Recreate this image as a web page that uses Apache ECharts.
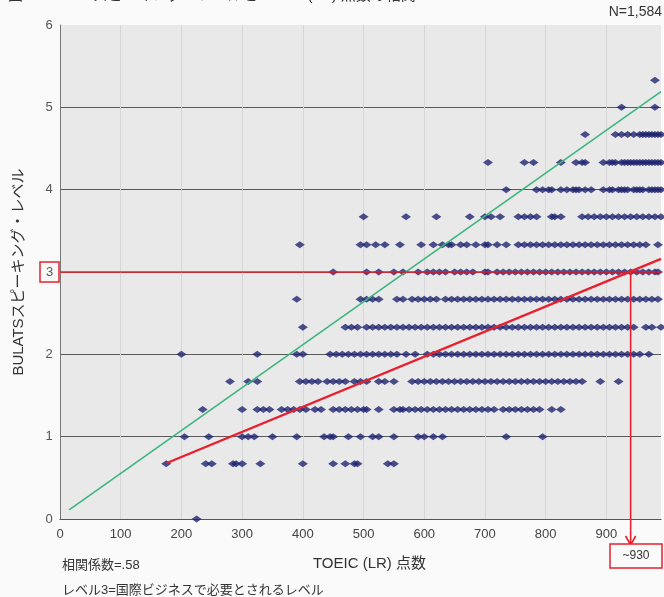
<!DOCTYPE html>
<html><head><meta charset="utf-8">
<script src="https://cdn.jsdelivr.net/npm/echarts@6/dist/echarts.min.js"></script>
<style>html,body{margin:0;padding:0;background:#fafafa;}#c{width:664px;height:597px;}</style>
</head><body><div id="c"></div>
<script>
// ---- data ----
const titleText = '図1 BULATSスピーキング・レベルとTOEIC (LR) 点数の相関';
const nText = 'N=1,584';
const corrText = '相関係数=.58';
const noteText = 'レベル3=国際ビジネスで必要とされるレベル';
const xName = 'TOEIC (LR) 点数';
const yName = 'BULATSスピーキング・レベル';
const xTicks = [0,100,200,300,400,500,600,700,800,900];
const yTicks = [0,1,2,3,4,5,6];
const levels = [0, 0.67, 1, 1.33, 1.67, 2, 2.33, 2.67, 3, 3.33, 3.67, 4, 4.33, 4.67, 5, 5.33];
const x_0 = [225];
const x_067 = [175,240,250,285,290,300,330,400,450,470,485,490,540,550];
const x_100 = [205,245,300,310,320,350,390,435,445,450,475,495,515,525,550,590,600,615,630,735,795];
const x_133 = [235,300,325,335,345,365,375,385,395,405,420,430,450,460,470,480,490,500,505,525,550,560,565,575,585,595,605,615,625,635,645,655,665,675,685,695,705,715,730,740,750,760,770,780,790,810,825];
const x_167 = [280,310,325,395,405,415,425,440,450,460,470,485,495,505,525,535,550,580,590,600,610,620,630,640,650,660,670,680,690,700,710,720,730,740,750,760,770,780,790,800,810,820,830,840,850,860,890,920];
const x_200 = [200,325,390,400,445,455,465,475,485,495,505,515,525,535,545,555,570,585,605,615,625,635,645,655,665,675,685,695,705,715,725,735,745,755,765,775,785,795,805,815,825,835,845,855,865,875,885,895,905,915,925,935,945,955,970];
const x_233 = [400,470,480,490,505,515,525,535,545,555,565,575,585,595,605,615,625,635,645,655,665,675,685,695,705,715,725,735,745,755,765,775,785,795,805,815,825,835,845,855,865,875,885,895,905,915,925,935,945,965,975,990];
const x_267 = [390,495,505,515,525,555,565,580,590,600,610,620,635,645,655,665,675,685,695,705,715,725,735,745,755,765,775,785,795,805,815,825,835,845,855,865,875,885,895,905,915,925,935,945,955,965,975,985];
const x_300 = [450,505,525,550,565,590,605,615,625,635,650,660,670,680,700,705,720,730,740,750,760,770,780,790,800,810,820,830,840,850,860,870,880,890,900,910,920,930,940,950,960,970,980,985];
const x_333 = [395,495,505,520,535,560,595,615,630,640,645,660,670,685,700,705,720,735,755,765,775,785,795,805,815,825,835,845,855,865,875,885,895,905,915,925,935,945,955,965,985];
const x_367 = [500,570,620,675,700,710,725,755,765,775,785,810,815,825,860,870,880,890,900,910,920,930,940,950,960,970,980,990];
const x_400 = [735,785,795,805,810,825,835,845,850,855,865,875,895,905,910,920,925,930,935,945,950,955,960,970,975,980,985,990];
const x_433 = [705,765,780,825,850,860,865,895,905,910,915,925,930,935,940,945,950,955,960,965,970,975,980,985,990];
const x_467 = [865,915,925,935,945,955,960,965,970,975,980,985,990];
const x_500 = [925,980];
const x_533 = [980];
const xByLevel = [x_0,x_067,x_100,x_133,x_167,x_200,x_233,x_267,x_300,x_333,x_367,x_400,x_433,x_467,x_500,x_533];
const redLine = [[176,0.68],[990,3.16]];
const greenLine = [[15,0.11],[990,5.19]];
const targetLevel = 3;
const crossX = 940;
const crossLabel = '~930';

(function(){
const points = [];
levels.forEach((lv,i)=>{ xByLevel[i].forEach(x=>points.push([x,lv])); });

const FONT = 'Liberation Sans, "Noto Sans CJK JP", sans-serif';
const RED = '#e8202e';
const chart = echarts.init(document.getElementById('c'));
chart.setOption({
  animation:false,
  backgroundColor:'#fafafa',
  grid:{left:60,right:2,top:25,bottom:78,show:true,backgroundColor:'#e9e9ea',borderWidth:0},
  xAxis:{type:'value',min:0,max:990,interval:100,
    axisLine:{show:true,onZero:false,lineStyle:{color:'#555',width:1.2}},
    axisTick:{show:false},
    axisLabel:{color:'#444',fontSize:13,fontFamily:FONT,margin:9,
      formatter:v=> xTicks.indexOf(v)>=0 ? String(v) : ''},
    splitLine:{show:true,showMinLine:false,showMaxLine:false,lineStyle:{color:'#d6d6d8',width:1}},
    name:xName,nameLocation:'middle',nameGap:37,
    nameTextStyle:{color:'#333',fontSize:15,fontFamily:FONT,padding:[0,0,0,18]}},
  yAxis:{type:'value',min:0,max:6,interval:1,
    axisLine:{show:true,lineStyle:{color:'#777',width:1}},
    axisTick:{show:false},
    axisLabel:{margin:1,formatter:v=> v===targetLevel ? '{box|'+v+'}' : '{n|'+v+'}',
      rich:{n:{color:'#555',fontSize:13,fontFamily:FONT,width:20,align:'center'},
            box:{color:'#555',fontSize:13,fontFamily:FONT,width:19,height:20,lineHeight:20,align:'center',
                 borderColor:RED,borderWidth:1.5}}},
    splitLine:{show:true,showMinLine:false,showMaxLine:false,lineStyle:{color:'#5a5a5a',width:1}},
    name:yName,nameLocation:'middle',nameGap:34,nameRotate:90,
    nameTextStyle:{color:'#333',fontSize:15,fontFamily:FONT}},
  series:[
    {type:'scatter',data:points,symbol:'diamond',symbolSize:[10,7],
     itemStyle:{color:'#1f2470'},z:3,
     markLine:{silent:true,symbol:'none',label:{show:false},
       lineStyle:{color:RED,width:1.6,type:'solid'},data:[{yAxis:targetLevel}]}},
    {type:'line',data:greenLine,symbol:'none',lineStyle:{color:'#3db67e',width:1.6},z:4},
    {type:'line',data:redLine,symbol:'none',lineStyle:{color:RED,width:2.4},z:5}
  ]
});

const pTop = chart.convertToPixel({gridIndex:0},[crossX,targetLevel]);
const pBot = chart.convertToPixel({gridIndex:0},[crossX,0]);
const tipY = pBot[1]+26;
chart.setOption({graphic:[
  {type:'line',shape:{x1:pTop[0],y1:pTop[1],x2:pTop[0],y2:tipY-2},style:{stroke:RED,lineWidth:1.6},z:10},
  {type:'polyline',shape:{points:[[pTop[0]-5,tipY-9],[pTop[0],tipY],[pTop[0]+5,tipY-9]]},style:{stroke:RED,lineWidth:1.6,fill:null},z:10},
  {type:'rect',shape:{x:610,y:tipY-1,width:52,height:24},style:{fill:'#fafafa',stroke:RED,lineWidth:1.5},z:10},
  {type:'text',x:636,y:tipY+11,style:{text:crossLabel,fill:'#333',fontSize:12,fontFamily:FONT,align:'center',verticalAlign:'middle'},z:11},
  {type:'text',x:662,y:12,style:{text:nText,fill:'#333',fontSize:14,fontFamily:FONT,align:'right',verticalAlign:'middle'}},
  {type:'text',x:8,y:-4,style:{text:titleText,fill:'#333',fontSize:15,fontFamily:FONT,align:'left',verticalAlign:'middle'}},
  {type:'text',x:62,y:565,style:{text:corrText,fill:'#333',fontSize:13,fontFamily:FONT,align:'left',verticalAlign:'middle'}},
  {type:'text',x:62,y:590,style:{text:noteText,fill:'#333',fontSize:13,fontFamily:FONT,align:'left',verticalAlign:'middle'}}
]});
})();
</script></body></html>
